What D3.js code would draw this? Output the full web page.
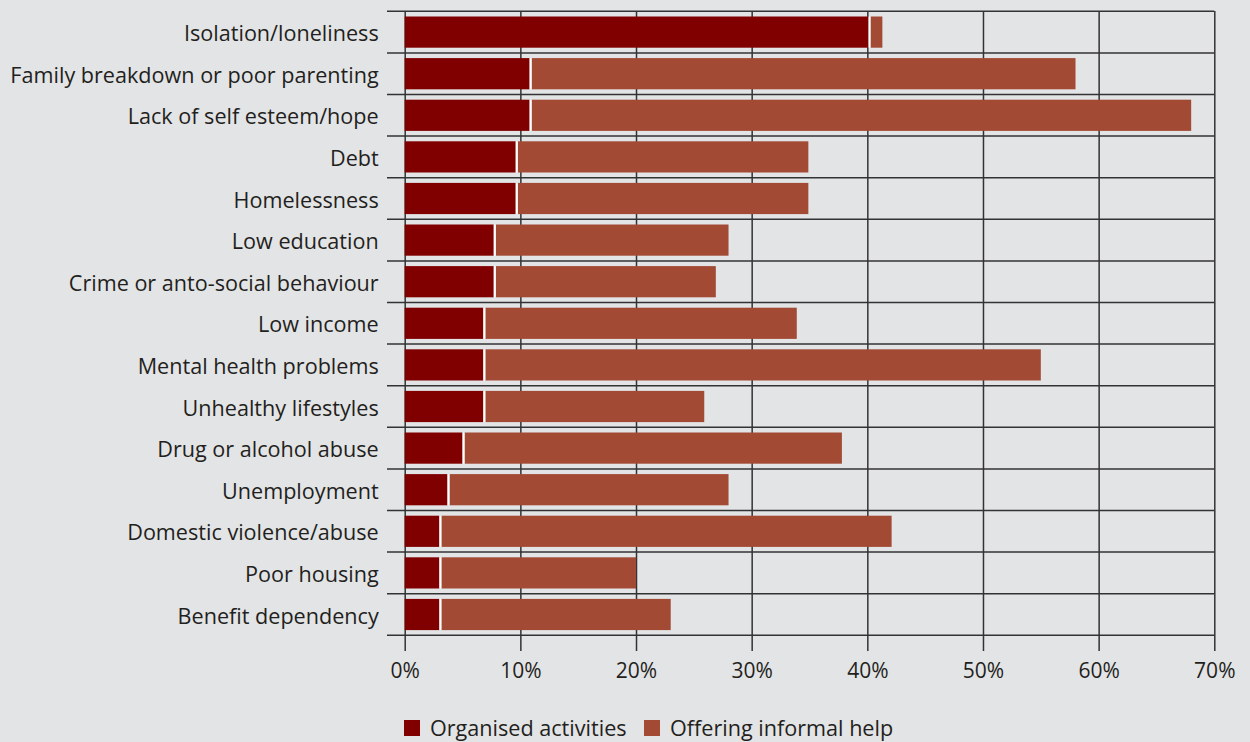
<!DOCTYPE html>
<html>
<head>
<meta charset="utf-8">
<script src="https://cdn.jsdelivr.net/npm/d3@7"></script>
<style>
  body { margin: 0; background: #e3e4e6; }
  svg { display: block; }
  text { font-family: "Open Sans", sans-serif; fill: #231f20; }
</style>
</head>
<body>
<div id="chart"></div>
<script>
// categories, top to bottom
const categories = [
  "Isolation/loneliness",
  "Family breakdown or poor parenting",
  "Lack of self esteem/hope",
  "Debt",
  "Homelessness",
  "Low education",
  "Crime or anto-social behaviour",
  "Low income",
  "Mental health problems",
  "Unhealthy lifestyles",
  "Drug or alcohol abuse",
  "Unemployment",
  "Domestic violence/abuse",
  "Poor housing",
  "Benefit dependency"
];

// % of respondents, organised activities
const organised = [40.1, 10.8, 10.8, 9.6, 9.6, 7.7, 7.7, 6.8, 6.8, 6.8, 5.0, 3.7, 3.0, 3.0, 3.0];
// % of respondents, offering informal help (stacked on top)
const informal = [1.2, 47.2, 57.2, 25.3, 25.3, 20.3, 19.2, 27.1, 48.2, 19.1, 32.8, 24.3, 39.1, 17.0, 20.0];

const xTicks = [0, 10, 20, 30, 40, 50, 60, 70];
const seriesNames = ["Organised activities", "Offering informal help"];
const colors = ["#800000", "#a34a35"];

const width = 1250;
const height = 742;

const svg = d3.select("#chart").append("svg")
  .attr("width", width)
  .attr("height", height);

// scales
const x = d3.scaleLinear()
  .domain([0, 70])
  .range([404.7, 1214.3]);

const y = d3.scaleBand()
  .domain(categories)
  .range([11.3, 635.3])
  .paddingInner(0.25)
  .paddingOuter(0.125);

const rows = categories.map((c, i) => ({
  name: c,
  org: organised[i],
  inf: informal[i]
}));

// horizontal row lines
const lineYs = d3.range(categories.length + 1).map(i => y.range()[0] + i * y.step());
svg.append("g")
  .selectAll("line")
  .data(lineYs)
  .join("line")
  .attr("x1", 387)
  .attr("x2", x(70))
  .attr("y1", d => d)
  .attr("y2", d => d)
  .attr("stroke", "#333")
  .attr("stroke-width", 1.5);

// x axis with vertical grid
const xAxis = svg.append("g")
  .attr("transform", `translate(0, 651)`)
  .call(d3.axisBottom(x)
    .tickValues(xTicks)
    .tickFormat(d => d + "%")
    .tickSizeInner(-640)
    .tickSizeOuter(0)
    .tickPadding(12));
xAxis.select(".domain").remove();
xAxis.selectAll(".tick line").attr("stroke", "#333").attr("stroke-width", 1.5);
xAxis.selectAll(".tick text")
  .style("font-size", "21px")
  .attr("fill", "#231f20");

// category labels
const yAxis = svg.append("g")
  .attr("transform", `translate(${x(0)}, 0)`)
  .call(d3.axisLeft(y).tickSize(0).tickPadding(26));
yAxis.select(".domain").remove();
yAxis.selectAll(".tick text")
  .style("font-size", "21.6px")
  .attr("dy", "0.42em")
  .attr("fill", "#231f20");

// bars: organised
svg.append("g")
  .selectAll("rect")
  .data(rows)
  .join("rect")
  .attr("x", x(0))
  .attr("y", d => y(d.name))
  .attr("width", d => x(d.org) - x(0))
  .attr("height", y.bandwidth())
  .attr("fill", colors[0]);

// bars: informal, with small white gap
svg.append("g")
  .selectAll("rect")
  .data(rows)
  .join("rect")
  .attr("x", d => x(d.org) + 2)
  .attr("y", d => y(d.name))
  .attr("width", d => x(d.org + d.inf) - x(d.org) - 2)
  .attr("height", y.bandwidth())
  .attr("fill", colors[1]);

// white separator
svg.append("g")
  .selectAll("rect")
  .data(rows)
  .join("rect")
  .attr("x", d => x(d.org))
  .attr("y", d => y(d.name))
  .attr("width", 2)
  .attr("height", y.bandwidth())
  .attr("fill", "#ffffff");

// legend
const legend = svg.append("g").attr("transform", "translate(404, 720)");
const legendX = [0, 240];
seriesNames.forEach((s, i) => {
  legend.append("rect")
    .attr("x", legendX[i])
    .attr("y", 0)
    .attr("width", 16)
    .attr("height", 16)
    .attr("fill", colors[i]);
  legend.append("text")
    .attr("x", legendX[i] + 26)
    .attr("y", 16)
    .style("font-size", "21.6px")
    .text(s);
});
</script>
</body>
</html>
